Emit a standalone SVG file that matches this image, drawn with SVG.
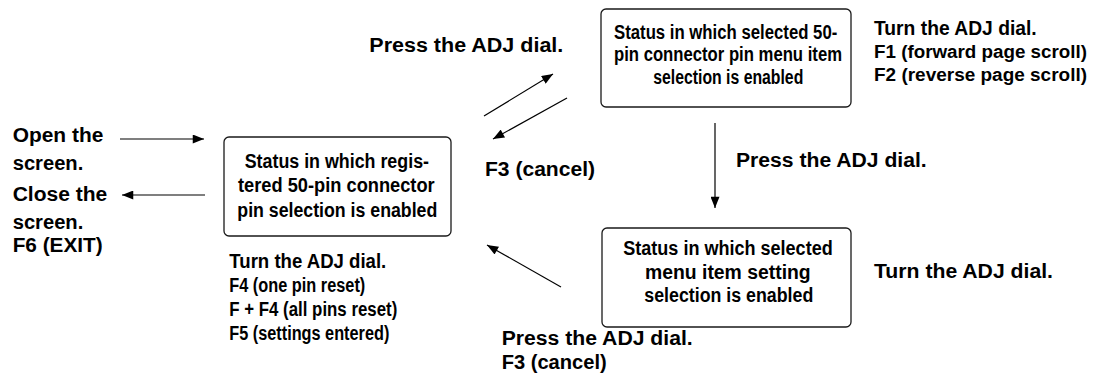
<svg xmlns="http://www.w3.org/2000/svg" width="1093" height="381" viewBox="0 0 1093 381">
<style>
text{font-family:"Liberation Sans",Arial,Helvetica,sans-serif;font-weight:bold;font-size:20px;fill:#000}
text.sm{font-size:18.8px}
.box{fill:#fff;stroke:#1a1a1a;stroke-width:1.3}
.conn{stroke:#000;stroke-width:1.2;fill:none;marker-end:url(#ah)}
</style>
<defs>
<marker id="ah" viewBox="0 0 10 8" refX="10" refY="4" markerWidth="12" markerHeight="9" markerUnits="userSpaceOnUse" orient="auto">
<path d="M0,0 L10,4 L0,8 Z" fill="#000"/>
</marker>
</defs>
<rect width="1093" height="381" fill="#fff"/>
<g id="connectors">
<line class="conn" x1="120" y1="139" x2="204" y2="139"/>
<line class="conn" x1="205" y1="195" x2="122" y2="195"/>
<line class="conn" x1="484" y1="116" x2="553" y2="74"/>
<line class="conn" x1="567" y1="98" x2="493" y2="139"/>
<line class="conn" x1="715" y1="123" x2="715" y2="208"/>
<line class="conn" x1="561" y1="287" x2="487" y2="245"/>
</g>
<g id="node-pin-selection">
<rect class="box" x="224" y="137" width="227" height="99" rx="5"/>
<text x="244.7" y="167.5" textLength="184.3" lengthAdjust="spacingAndGlyphs">Status in which regis-</text>
<text x="238" y="192" textLength="196.7" lengthAdjust="spacingAndGlyphs">tered 50-pin connector</text>
<text x="237.3" y="217" textLength="200" lengthAdjust="spacingAndGlyphs">pin selection is enabled</text>
</g>
<g id="node-menu-item-selection">
<rect class="box" x="601" y="9" width="250" height="98" rx="5"/>
<text x="614" y="38.5" textLength="223.3" lengthAdjust="spacingAndGlyphs">Status in which selected 50-</text>
<text x="614" y="61" textLength="228" lengthAdjust="spacingAndGlyphs">pin connector pin menu item</text>
<text x="653.3" y="83.5" textLength="150" lengthAdjust="spacingAndGlyphs">selection is enabled</text>
</g>
<g id="node-setting-selection">
<rect class="box" x="602" y="228" width="249" height="99" rx="5"/>
<text x="623.3" y="255" textLength="209.4" lengthAdjust="spacingAndGlyphs">Status in which selected</text>
<text x="645" y="279" textLength="165.7" lengthAdjust="spacingAndGlyphs">menu item setting</text>
<text x="644.3" y="302" textLength="169" lengthAdjust="spacingAndGlyphs">selection is enabled</text>
</g>
<g id="labels">
<text x="12.7" y="141.5" textLength="90.6" lengthAdjust="spacingAndGlyphs">Open the</text>
<text x="12.7" y="169.5" textLength="70.6" lengthAdjust="spacingAndGlyphs">screen.</text>
<text x="12.7" y="201" textLength="94.6" lengthAdjust="spacingAndGlyphs">Close the</text>
<text x="12.7" y="229" textLength="70.6" lengthAdjust="spacingAndGlyphs">screen.</text>
<text x="12.7" y="252" textLength="90" lengthAdjust="spacingAndGlyphs">F6 (EXIT)</text>
<text x="229.3" y="268" textLength="157" lengthAdjust="spacingAndGlyphs">Turn the ADJ dial.</text>
<text x="229.3" y="292" textLength="136" lengthAdjust="spacingAndGlyphs">F4 (one pin reset)</text>
<text x="229.3" y="316" textLength="168" lengthAdjust="spacingAndGlyphs">F + F4 (all pins reset)</text>
<text x="229.3" y="340" textLength="160" lengthAdjust="spacingAndGlyphs">F5 (settings entered)</text>
<text x="369.3" y="51.7" textLength="194" lengthAdjust="spacingAndGlyphs">Press the ADJ dial.</text>
<text x="485" y="176" textLength="110" lengthAdjust="spacingAndGlyphs">F3 (cancel)</text>
<text x="874" y="34.5" textLength="162.7" lengthAdjust="spacingAndGlyphs">Turn the ADJ dial.</text>
<text class="sm" x="874" y="57.5" textLength="213" lengthAdjust="spacingAndGlyphs">F1 (forward page scroll)</text>
<text class="sm" x="874" y="81" textLength="213" lengthAdjust="spacingAndGlyphs">F2 (reverse page scroll)</text>
<text x="736" y="166.7" textLength="190.7" lengthAdjust="spacingAndGlyphs">Press the ADJ dial.</text>
<text x="874" y="278.3" textLength="179" lengthAdjust="spacingAndGlyphs">Turn the ADJ dial.</text>
<text x="501.7" y="345" textLength="191" lengthAdjust="spacingAndGlyphs">Press the ADJ dial.</text>
<text x="501.7" y="368.5" textLength="105" lengthAdjust="spacingAndGlyphs">F3 (cancel)</text>
</g>
</svg>
